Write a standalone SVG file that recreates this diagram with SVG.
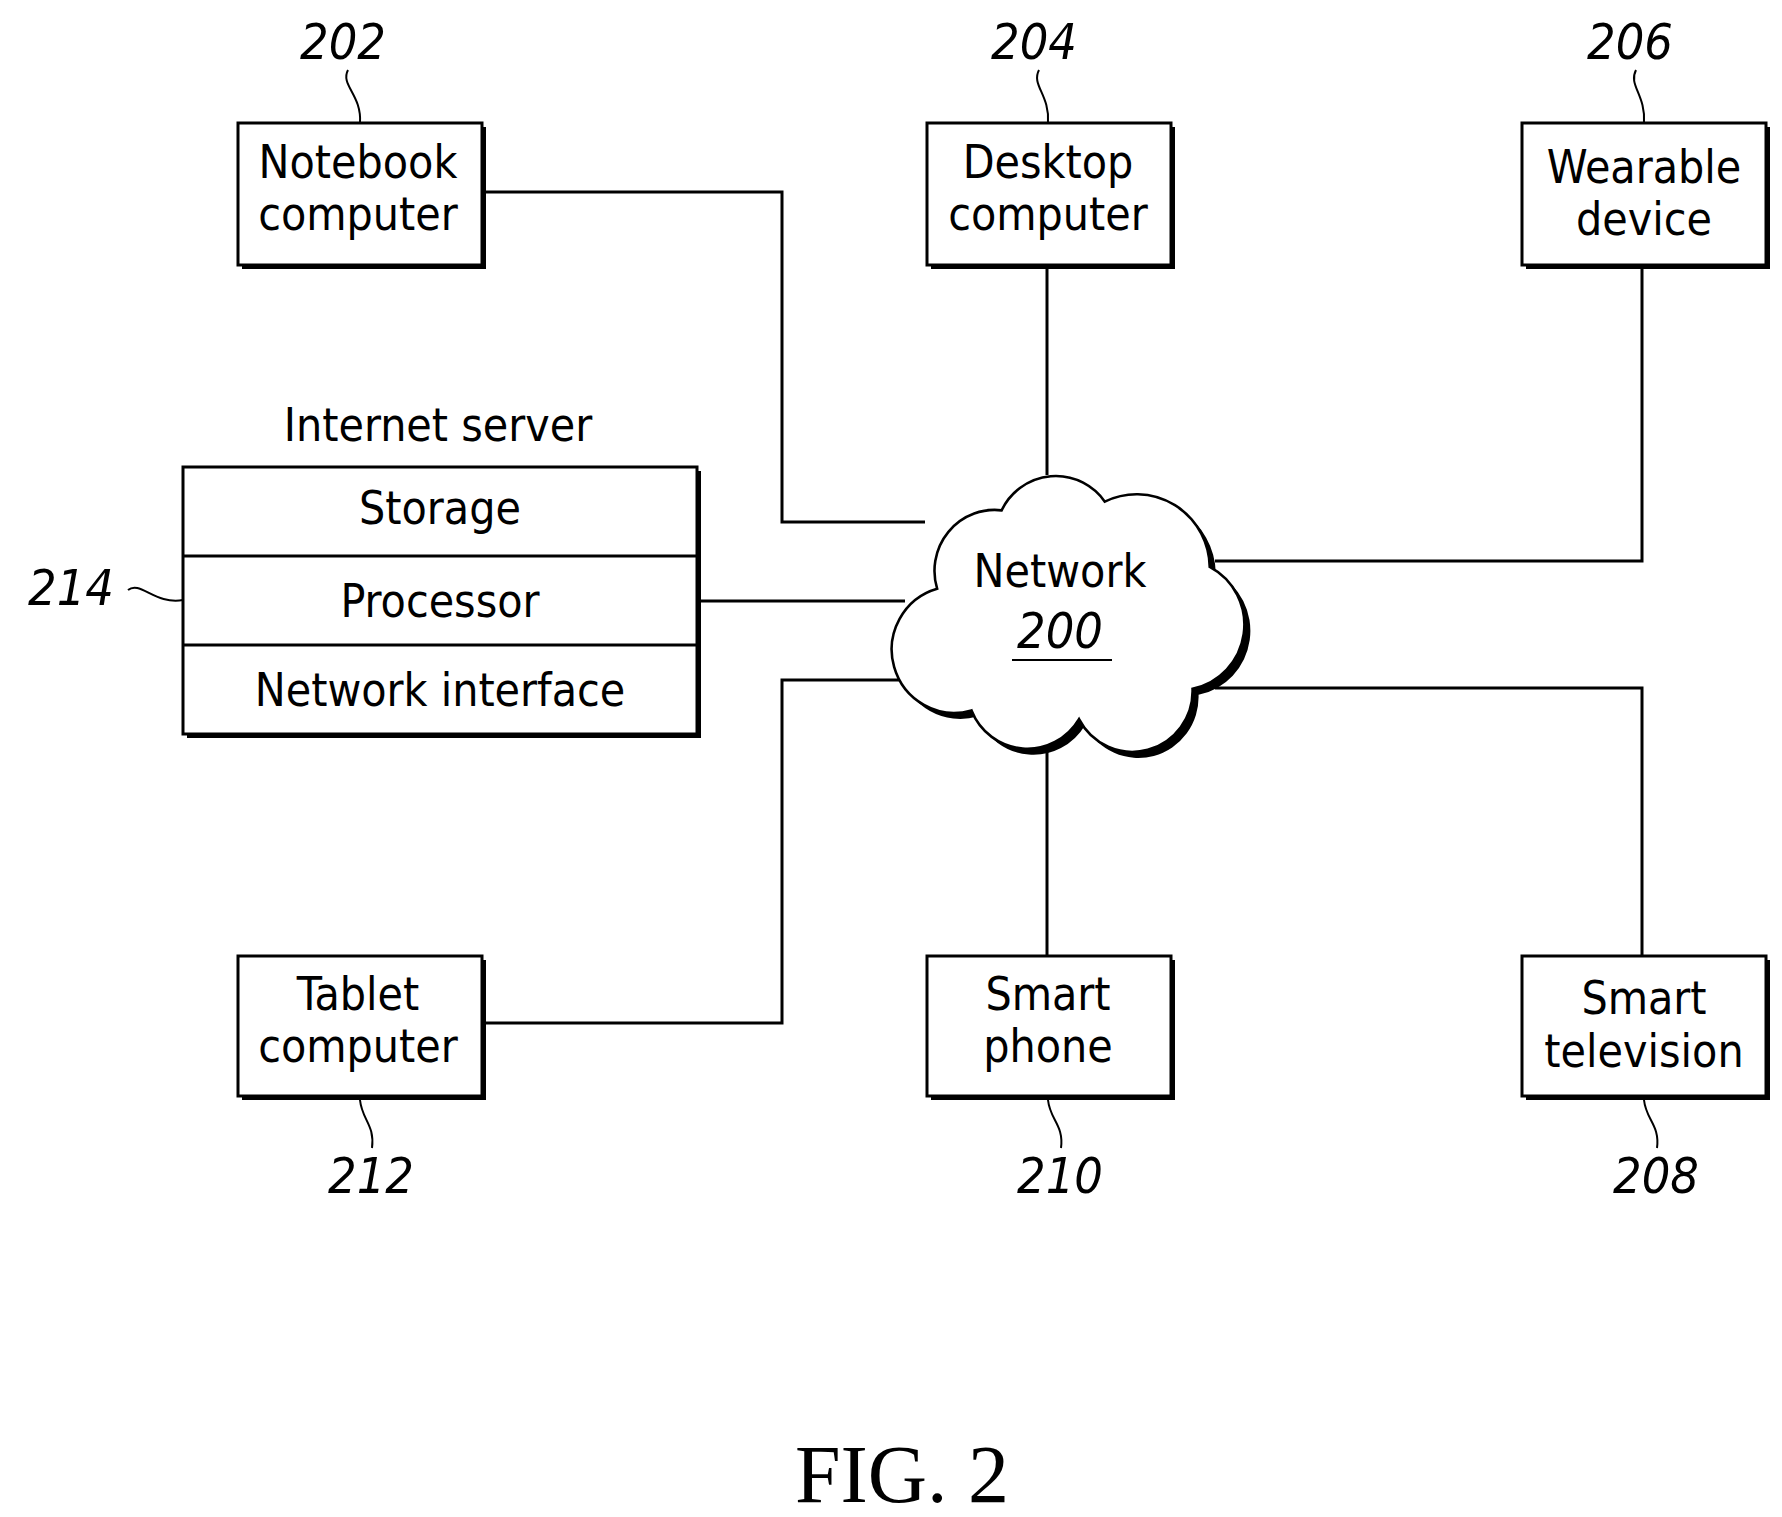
<svg xmlns="http://www.w3.org/2000/svg" width="1782" height="1517" viewBox="0 0 1782 1517">
<style>
.box{fill:#fff;stroke:#000;stroke-width:3}
.sh{fill:#000}
.t{font-family:"DejaVu Sans Condensed","DejaVu Sans",sans-serif;font-stretch:condensed;font-size:46px;text-anchor:middle;fill:#000}
.n{font-family:"DejaVu Sans Condensed","DejaVu Sans",sans-serif;font-stretch:condensed;font-style:italic;font-size:50px;text-anchor:middle;fill:#000}
.ln{fill:none;stroke:#000;stroke-width:3}
.ld{fill:none;stroke:#000;stroke-width:2}
</style>
<rect width="1782" height="1517" fill="#fff"/>
<g id="connectors">
<polyline class="ln" points="482,192 782,192 782,522 925,522"/>
<line class="ln" x1="697" y1="601" x2="905" y2="601"/>
<polyline class="ln" points="482,1023 782,1023 782,680 905,680"/>
<line class="ln" x1="1047" y1="265" x2="1047" y2="475"/>
<line class="ln" x1="1047" y1="745" x2="1047" y2="956"/>
<polyline class="ln" points="1215,561 1642,561 1642,265"/>
<polyline class="ln" points="1215,688 1642,688 1642,956"/>
</g>
<g id="network">
<g transform="translate(1073,613) scale(0.86,0.87) translate(-1073,-613)">
<path class="sh" transform="translate(7,7)" d="M915,585 A70,70 0 0 1 990,495 A70,70 0 0 1 1110,485 A85,85 0 0 1 1232,560 A75,75 0 0 1 1212,700 A70,70 0 0 1 1080,735 A70,70 0 0 1 955,725 A65,65 0 0 1 915,585 Z"/>
<path class="box" stroke-width="3.4" d="M915,585 A70,70 0 0 1 990,495 A70,70 0 0 1 1110,485 A85,85 0 0 1 1232,560 A75,75 0 0 1 1212,700 A70,70 0 0 1 1080,735 A70,70 0 0 1 955,725 A65,65 0 0 1 915,585 Z"/>
</g>
<text class="t" x="1060" y="587">Network</text>
<text class="n" x="1060" y="648">200</text>
<line x1="1012" y1="660" x2="1112" y2="660" stroke="#000" stroke-width="2"/>
</g>
<g id="notebook">
<rect class="sh" x="242" y="127" width="244" height="142"/>
<rect class="box" x="238" y="123" width="244" height="142"/>
<text class="t" x="358" y="178">Notebook</text><text class="t" x="358" y="230">computer</text>
<text class="n" x="343" y="59">202</text>
<path class="ld" d="M348,70 C340,85 362,95 360,123"/>
</g>
<g id="desktop">
<rect class="sh" x="931" y="127" width="244" height="142"/>
<rect class="box" x="927" y="123" width="244" height="142"/>
<text class="t" x="1048" y="178">Desktop</text><text class="t" x="1048" y="230">computer</text>
<text class="n" x="1034" y="59">204</text>
<path class="ld" d="M1039,70 C1031,85 1050,95 1048,123"/>
</g>
<g id="wearable">
<rect class="sh" x="1526" y="127" width="244" height="142"/>
<rect class="box" x="1522" y="123" width="244" height="142"/>
<text class="t" x="1644" y="183">Wearable</text><text class="t" x="1644" y="235">device</text>
<text class="n" x="1630" y="59">206</text>
<path class="ld" d="M1636,70 C1628,85 1646,95 1644,123"/>
</g>
<g id="tablet">
<rect class="sh" x="242" y="960" width="244" height="140"/>
<rect class="box" x="238" y="956" width="244" height="140"/>
<text class="t" x="358" y="1010">Tablet</text><text class="t" x="358" y="1062">computer</text>
<text class="n" x="371" y="1193">212</text>
<path class="ld" d="M360,1100 C362,1120 375,1125 372,1148"/>
</g>
<g id="smartphone">
<rect class="sh" x="931" y="960" width="244" height="140"/>
<rect class="box" x="927" y="956" width="244" height="140"/>
<text class="t" x="1048" y="1010">Smart</text><text class="t" x="1048" y="1062">phone</text>
<text class="n" x="1060" y="1193">210</text>
<path class="ld" d="M1048,1100 C1050,1120 1064,1125 1061,1148"/>
</g>
<g id="tv">
<rect class="sh" x="1526" y="960" width="244" height="140"/>
<rect class="box" x="1522" y="956" width="244" height="140"/>
<text class="t" x="1644" y="1014">Smart</text><text class="t" x="1644" y="1067">television</text>
<text class="n" x="1656" y="1193">208</text>
<path class="ld" d="M1644,1100 C1646,1120 1660,1125 1657,1148"/>
</g>
<g id="server">
<text class="t" x="438" y="441">Internet server</text>
<rect class="sh" x="187" y="471" width="514" height="267"/>
<rect class="box" x="183" y="467" width="514" height="267"/>
<line class="ln" x1="183" y1="556" x2="697" y2="556"/>
<line class="ln" x1="183" y1="645" x2="697" y2="645"/>
<text class="t" x="440" y="524">Storage</text>
<text class="t" x="440" y="617">Processor</text>
<text class="t" x="440" y="706">Network interface</text>
<text class="n" x="71" y="605">214</text>
<path class="ld" d="M128,590 C140,580 155,605 183,600"/>
</g>
<text x="902" y="1502" font-family="Liberation Serif,serif" font-size="82" text-anchor="middle">FIG. 2</text>
</svg>
